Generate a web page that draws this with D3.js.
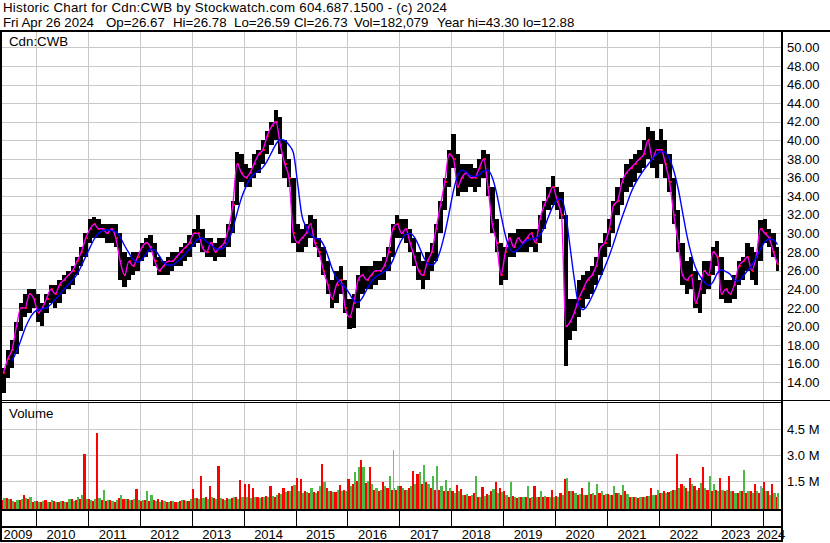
<!DOCTYPE html>
<html><head><meta charset="utf-8">
<script src="https://cdn.jsdelivr.net/npm/d3@7"></script>
<style>
body{margin:0;background:#fff}
svg{display:block}
text{font-family:"Liberation Sans",Arial,sans-serif;fill:#000}
</style>
</head><body>
<svg id="c" width="830" height="543"></svg>
<script>
// ---------------- data (monthly, May 2009 .. Apr 2024) ----------------
const firstMonth = [2009, 4];   // May 2009 (month index 4)
const lows = [
 12.9,14.5,15.5,17,19.5,21,21.5,22,
 20.5,20,21.5,22.5,22,22.5,23.5,24,24.5,25.5,26.5,27.5,
 29,29.5,29.5,29.5,29,29,28.5,25,24.2,25,25.5,26,
 27,27.5,28,26.5,25.5,25.5,25.5,26,26.5,26.5,27,27.5,
 28.5,29,28,27.5,27.5,27,27.5,27.5,28.5,30,33,35.5,
 35,35,36,36.5,37.5,38.5,39.5,40,38.5,36,35,29,
 28,28,28.5,29.5,28.5,27.5,25.5,23.5,22,22.5,23.5,21.5,
 19.7,19.8,22,23.5,24,24,24.5,25,25,26,27.5,29.5,
 29.5,29,28,26.5,25,24,25,26,27,30,32.5,35,
 37,34,34.5,34.5,35,34.5,35,36,34,30,28,24.5,
 25,27.5,27.5,28,28,28,28.5,28,29,30.5,32.5,33,
 32.5,31.5,15.8,18.5,19.5,21,22,23,23.5,24.5,25.5,27.5,
 28.5,30,32,33,34.5,35,35.5,36.5,37,38,37,36,
 37.5,36,34.5,31,28,24.5,23.5,24,22,21.5,23.5,24,
 25.5,26.5,23,22.5,22.5,23,24.5,25,26,25,24.5,27,
 29,28.5,27.5,26
];
const highs = [
 15.5,17.5,18.5,20.5,22.5,23.5,24,24,
 23.5,22.5,23.5,24.5,24.5,25,25.5,26,26.5,27.5,28.5,30,
 31.5,31.8,31.5,31,31,31,31,30,28,27.5,28,28,
 29,29.5,29.8,29,27.5,27,27.5,28,28,28.5,29,29.8,
 30.5,32,30.5,29.5,29.5,29,29.5,29.5,31,33.5,38.8,38.5,
 37.5,37,38.5,39,40,41,42,43.3,42.5,40,38,36,
 31,30.5,31,32,31.5,29.5,28.5,27,25,26,26.5,25,
 23,23.5,25.5,26.5,26.5,26.5,27,27,27.5,28.5,31,32,
 31.5,31.5,30.5,29.5,28,27,28,29,31,33.5,36,39,
 40.7,38.5,37.5,37.5,37.5,37,38,39,38.5,35,31.5,29,
 28.5,30,30,30.5,30.5,30.5,30.5,30.5,32,33.5,35,36.2,
 35,34.5,32,23,23,25,25.5,26,26.5,27.5,29,30,
 31.5,33.5,35,36,37.5,38,38.5,39,40,41.4,41,40,
 41.2,40,38.5,36,32.5,29,27,27.5,26,25,27,27,
 28.5,29.2,27.5,25,25,25.5,27,27.5,29,28.5,28,31.4,
 31.5,30.5,30,28.5
];
const closes = [
 15,16.5,17.5,20,22,22,23.5,23,
 21.5,22,23,24,23.5,24.5,25,25.5,26,27,28,29.5,
 30.5,31,30.5,30.5,30,30.5,29.5,27,25.5,27,26.5,27.5,
 28.5,29,28.5,27,26,26.5,27,27,27.5,28,28.5,29,
 30,30,28.5,28,29,28,28.5,29,30.5,33,37.5,36.5,
 36,36.5,37.5,38.5,39,40.5,41.5,42,39.5,37.5,36,30,
 29,29.5,30,31,29,28,26,24.5,23,24.5,25,22,
 21,22.5,25,25.5,25,25.5,26,26,26.5,28,30.5,31,
 30,30.5,29,27.5,26,25.5,27,28,30.5,33,35.5,38.5,
 38,35,36,36.5,36,36,37,38,35,31,29,25.5,
 28,29.5,28.5,29.5,29,29.5,30,29,31.5,33,34,35,
 33.5,32,20,20.5,21.5,23,24,25,25.5,26.5,28.5,29,
 30.5,33,33.5,35.5,36.5,37,37.5,38,38.5,40,38,39,
 39,37.5,35.5,32,29,25.5,25,25.5,22.5,24,26,25.5,
 28,27.5,23.5,24,23.5,24.5,26.5,27,27.5,26,27.5,30.5,
 30,29.5,28,26.73
];
const slowAvg = [
 null,null,16.3,17.3,18.5,19.8,20.8,21.5,
 21.8,21.9,22.0,22.4,22.9,23.4,24.0,24.5,25.0,25.6,26.5,27.5,
 28.5,29.4,30.0,30.3,30.4,30.3,30.2,29.6,28.7,27.9,27.2,26.9,
 27.2,27.8,28.3,28.2,27.6,26.9,26.6,26.6,26.9,27.3,27.8,28.3,
 28.9,29.4,29.5,29.1,28.7,28.4,28.3,28.5,29.2,30.5,32.2,33.8,
 35.0,35.9,36.4,36.7,37.1,37.8,38.7,39.6,40.1,40.0,39.5,38.7,
 35.3,31.9,30.7,29.9,29.5,29.4,28.8,27.6,26.2,25.2,24.6,24.2,
 23.5,22.8,22.6,23.1,24.0,24.8,25.3,25.6,25.9,26.3,27.1,28.3,
 29.3,29.9,30.0,29.6,28.7,27.6,26.8,26.6,27.0,28.2,30.0,32.2,
 34.6,36.2,36.8,36.6,36.2,36.1,36.3,36.7,36.8,36.0,34.3,32.0,
 29.8,28.4,28.0,28.3,28.8,29.2,29.4,29.5,29.8,30.6,31.8,32.9,
 33.6,33.7,32.0,28.5,25.0,22.3,21.8,22.3,23.2,24.2,25.3,26.4,
 27.6,28.9,30.3,31.7,33.0,34.3,35.3,36.1,36.8,37.4,38.0,38.5,
 38.8,38.7,38.0,36.7,34.8,32.3,29.8,27.8,26.3,25.4,24.8,24.4,
 24.8,25.7,26.1,25.9,25.6,25.0,24.9,25.4,26.0,26.6,27.4,28.3,
 29.1,29.4,29.3,28.8
];
// volume in millions: largest up-day and down-day bar of each month
const volUp = [
 0.5,0.45,0.35,0.4,0.45,0.5,0.6,0.35,
 0.3,0.35,0.3,0.4,0.3,0.35,0.3,0.45,0.35,0.55,0.7,0.45,
 0.4,0.45,0.5,1.0,0.4,0.35,0.4,0.7,0.45,0.4,0.45,0.4,
 0.4,0.93,0.7,0.35,0.3,0.35,0.3,0.35,0.3,0.4,0.35,0.45,
 0.5,0.45,0.5,0.45,0.6,0.45,0.5,0.4,0.45,0.55,0.45,0.6,
 0.6,0.5,0.55,0.5,0.55,0.6,0.65,0.7,0.75,0.85,0.9,1.27,
 0.9,0.8,0.85,1.12,0.8,1.2,1.45,0.9,0.85,1.0,0.9,0.95,
 1.2,2.0,2.28,2.28,1.5,1.3,1.1,1.0,1.2,1.8,1.1,1.2,
 1.1,1.0,1.2,1.3,2.0,2.44,1.3,1.8,2.38,1.2,1.55,1.1,
 0.8,0.95,0.7,0.75,0.7,1.8,0.6,0.65,0.7,1.05,0.8,0.85,
 0.7,1.45,0.6,0.55,0.6,1.2,0.55,0.6,0.95,0.65,0.6,0.6,
 0.6,0.7,1.65,0.9,0.8,0.75,0.7,1.45,0.8,1.35,0.9,0.75,
 0.7,1.2,0.8,1.27,0.75,0.6,0.55,0.6,0.6,0.65,0.7,0.98,
 0.8,0.8,0.9,1.0,1.1,1.2,0.9,1.3,1.0,1.4,1.1,1.8,
 1.35,0.9,1.0,1.0,0.9,0.8,0.9,2.15,0.9,0.8,0.9,1.1,
 0.9,0.7,0.8,0.8
];
const volDown = [
 0.4,0.5,0.45,0.3,0.4,0.7,0.45,0.3,
 0.35,0.3,0.4,0.3,0.35,0.3,0.35,0.3,0.45,0.4,0.45,3.05,
 0.45,0.35,4.25,0.4,0.35,0.4,0.3,0.5,0.48,0.45,0.4,1.05,
 0.35,0.4,0.35,0.4,0.45,0.4,0.3,0.35,0.3,0.35,0.4,0.35,
 1.05,0.5,1.8,0.6,1.2,0.5,2.38,0.45,0.5,0.5,0.6,1.55,
 1.3,1.3,1.1,0.6,0.55,0.65,1.2,0.6,0.8,1.1,0.9,1.2,
 1.7,1.6,0.9,0.8,0.85,0.9,2.48,1.12,0.95,0.85,1.25,1.0,
 1.6,1.3,1.5,2.73,1.4,2.28,1.0,0.9,1.45,1.1,1.0,1.0,
 1.2,1.0,1.1,2.05,1.9,1.3,1.45,1.1,1.0,1.0,0.9,0.9,
 0.9,1.28,1.05,0.7,0.65,0.8,0.6,1.15,0.75,0.9,1.45,1.1,
 0.95,0.6,0.65,0.5,0.6,0.55,0.5,1.2,0.6,0.55,0.6,1.0,
 0.65,0.8,1.6,0.9,0.95,0.7,1.12,0.7,0.75,0.7,0.8,0.7,
 0.75,0.7,0.8,0.7,0.95,0.6,0.55,0.5,0.6,0.65,1.12,0.7,
 0.8,0.9,0.85,1.0,3.06,1.35,1.1,1.65,1.2,1.1,2.32,1.0,
 0.9,1.0,1.65,0.9,1.8,0.9,0.8,0.9,0.8,0.95,1.35,0.8,
 1.45,0.9,1.3,0.6
];
// unchanged-price days with notable volume (grey bars)
const flatMonths = ["2016-11", "2017-09", "2023-12"];
const flatVols = [3.29, 1.4, 1.2];

const priceTicks = [14,16,18,20,22,24,26,28,30,32,34,36,38,40,42,44,46,48,50];
const volTicks = [1.5, 3.0, 4.5];
const volTickLabels = ["1.5 M", "3.0 M", "4.5 M"];
const years = [2009,2010,2011,2012,2013,2014,2015,2016,2017,2018,2019,2020,2021,2022,2023,2024];

const titleLine1 = "Historic Chart for Cdn:CWB by Stockwatch.com 604.687.1500 - (c) 2024";
const titleFields = ["Fri Apr 26 2024","Op=26.67","Hi=26.78","Lo=26.59","Cl=26.73","Vol=182,079","Year hi=43.30","lo=12.88"];
const symbol = "Cdn:CWB";
const lastDay = new Date(2024, 3, 27);

// ---------------- drawing ----------------
const svg = d3.select("#c");
const W = 830, H = 543;
const months = d3.timeMonth.range(new Date(firstMonth[0], firstMonth[1], 1), new Date(2024, 4, 1));
const ends = months.map((m, i) => i + 1 < months.length ? months[i + 1] : lastDay);

const x = d3.scaleTime().domain([new Date(2010,0,1), new Date(2024,0,1)]).range([36, 762.7]);
const yP = d3.scaleLinear().domain([14, 50]).range([382.3, 47.3]);
const yV = d3.scaleLinear().domain([0, 4.5]).range([507, 429]);

const L = 2, R = 781;
const pTop = 32, pBot = 400, vTop = 403, vBot = 509;

svg.append("rect").attr("width", W).attr("height", H).attr("fill", "#fff");

const defs = svg.append("defs");
defs.append("clipPath").attr("id","cp").append("rect").attr("x",L).attr("y",pTop).attr("width",R-L).attr("height",pBot-pTop);
defs.append("clipPath").attr("id","cv").append("rect").attr("x",L).attr("y",vTop).attr("width",R-L).attr("height",vBot-vTop);

const yearStarts = years.filter(y => y > 2009).map(y => new Date(y,0,1));
const grid = svg.append("g").attr("stroke","#c8c8c8").attr("stroke-width",1).attr("shape-rendering","crispEdges");
grid.selectAll(".hp").data(priceTicks).join("line")
  .attr("x1",L).attr("x2",R).attr("y1",d=>Math.round(yP(d))+0.5).attr("y2",d=>Math.round(yP(d))+0.5);
grid.selectAll(".vp").data(yearStarts).join("line")
  .attr("x1",d=>Math.round(x(d))+0.5).attr("x2",d=>Math.round(x(d))+0.5).attr("y1",pTop).attr("y2",pBot);
const gv = svg.append("g").attr("stroke","#c8c8c8").attr("stroke-width",1).attr("shape-rendering","crispEdges");
gv.selectAll(".hv").data(volTicks).join("line")
  .attr("x1",L).attr("x2",R).attr("y1",d=>Math.round(yV(d))+0.5).attr("y2",d=>Math.round(yV(d))+0.5);
gv.selectAll(".vv").data(yearStarts).join("line")
  .attr("x1",d=>Math.round(x(d))+0.5).attr("x2",d=>Math.round(x(d))+0.5).attr("y1",vTop).attr("y2",vBot);

// price bars
const gp = svg.append("g").attr("clip-path","url(#cp)");
gp.append("g").attr("shape-rendering","crispEdges").selectAll("rect").data(months).join("rect")
  .attr("x",(d,i)=>x(d)).attr("width",(d,i)=>Math.max(1, x(ends[i])-x(d)))
  .attr("y",(d,i)=>yP(highs[i])).attr("height",(d,i)=>Math.max(1, yP(lows[i])-yP(highs[i])))
  .attr("fill","#000");
gp.append("g").attr("shape-rendering","crispEdges").selectAll("rect").data(months).join("rect")
  .attr("x",(d,i)=>x(ends[i])-2.2).attr("width",2)
  .attr("y",(d,i)=>yP(closes[i])-1).attr("height",2)
  .attr("fill","#ff0000");

const mid = (d,i) => x(new Date((+d + +ends[i]) / 2));
const fast = d3.line().x((d,i)=>mid(d,i)).y((d,i)=>yP(closes[i])).curve(d3.curveMonotoneX);
gp.append("path").datum(months).attr("d", fast).attr("fill","none").attr("stroke","#ff00ff").attr("stroke-width",1.4);
const slow = d3.line().defined((d,i)=>slowAvg[i]!=null).x((d,i)=>mid(d,i)).y((d,i)=>yP(slowAvg[i])).curve(d3.curveMonotoneX);
gp.append("path").datum(months).attr("d", slow).attr("fill","none").attr("stroke","#0000ff").attr("stroke-width",1.4);

// volume bars
const gvol = svg.append("g").attr("clip-path","url(#cv)").attr("shape-rendering","crispEdges");
gvol.selectAll(".dn").data(months).join("rect")
  .attr("x",(d,i)=>x(d)).attr("width",(d,i)=>(x(ends[i])-x(d))/2)
  .attr("y",(d,i)=>yV(volDown[i])).attr("height",(d,i)=>yV(0)-yV(volDown[i])+3)
  .attr("fill","#ff0000");
gvol.selectAll(".up").data(months).join("rect")
  .attr("x",(d,i)=>x(d)+(x(ends[i])-x(d))/2).attr("width",(d,i)=>(x(ends[i])-x(d))/2)
  .attr("y",(d,i)=>yV(volUp[i])).attr("height",(d,i)=>yV(0)-yV(volUp[i])+3)
  .attr("fill","#4cb848");
const parseM = d3.timeParse("%Y-%m");
gvol.selectAll(".fl").data(flatMonths).join("rect")
  .attr("x",d=>x(parseM(d))+2).attr("width",1.5)
  .attr("y",(d,i)=>yV(flatVols[i])).attr("height",(d,i)=>yV(0)-yV(flatVols[i])+3)
  .attr("fill","#a0a0a0");

// frame
const fr = svg.append("g").attr("fill","#000").attr("shape-rendering","crispEdges");
fr.append("rect").attr("x",0).attr("y",30).attr("width",W).attr("height",2);
fr.append("rect").attr("x",0).attr("y",30).attr("width",2).attr("height",512);
fr.append("rect").attr("x",781).attr("y",30).attr("width",2).attr("height",512);
fr.append("rect").attr("x",0).attr("y",400).attr("width",783).attr("height",1);
fr.append("rect").attr("x",0).attr("y",402).attr("width",783).attr("height",1);
fr.append("rect").attr("x",783).attr("y",400).attr("width",W-783).attr("height",1);
fr.append("rect").attr("x",0).attr("y",509).attr("width",783).attr("height",2);
fr.append("rect").attr("x",0).attr("y",526).attr("width",783).attr("height",2);
fr.append("rect").attr("x",0).attr("y",540).attr("width",783).attr("height",2);
fr.selectAll(".yt").data(yearStarts).join("rect")
  .attr("x",d=>Math.round(x(d))-0.5).attr("width",1.6).attr("y",511).attr("height",15);

// texts
svg.append("text").attr("x",3).attr("y",11.5).attr("font-size","13.3px")
  .attr("textLength",444).attr("lengthAdjust","spacing").text(titleLine1);
const fieldX = [3,106,173,234,294,354,437,523];
svg.append("g").selectAll("text").data(titleFields).join("text")
  .attr("x",(d,i)=>fieldX[i]).attr("y",26.5).attr("font-size","13.3px").text(d=>d);
svg.append("text").attr("x",9).attr("y",46).attr("font-size","13.3px").text(symbol);
svg.append("text").attr("x",9).attr("y",418).attr("font-size","13.3px").text("Volume");

// right axes
const axP = d3.axisRight(yP).tickValues(priceTicks).tickFormat(d3.format(".2f")).tickSize(0).tickPadding(5);
svg.append("g").attr("transform","translate(782,0)").call(axP)
  .call(g=>g.select(".domain").remove())
  .call(g=>g.selectAll("text").attr("font-size","13px").attr("font-family","Liberation Sans, Arial, sans-serif").attr("fill","#000"));
const axV = d3.axisRight(yV).tickValues(volTicks).tickFormat((d,i)=>volTickLabels[i]).tickSize(0).tickPadding(5);
svg.append("g").attr("transform","translate(782,0)").call(axV)
  .call(g=>g.select(".domain").remove())
  .call(g=>g.selectAll("text").attr("font-size","13px").attr("font-family","Liberation Sans, Arial, sans-serif").attr("fill","#000"));

// year labels
const bandStart = y => y === 2009 ? L : x(new Date(y,0,1));
const bandEnd = y => y === 2024 ? R : x(new Date(y+1,0,1));
svg.append("g").selectAll("text").data(years).join("text")
  .attr("x",y=>(bandStart(y)+bandEnd(y))/2 - 1).attr("y",538.5)
  .attr("text-anchor","middle").attr("font-size","13px").text(y=>String(y));
</script>
</body></html>
